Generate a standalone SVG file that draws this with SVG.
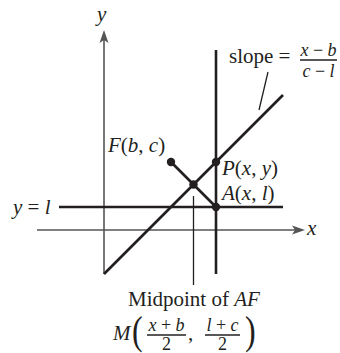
<svg xmlns="http://www.w3.org/2000/svg" width="340" height="353" viewBox="0 0 340 353">
<defs>
<style>
text{font-family:"Liberation Serif","Times New Roman",serif;fill:#231f20;}
.t{font-size:21px;}
.f{font-size:18px;}
.i{font-style:italic;}
.axis{stroke:#555;stroke-width:1.6;fill:none;}
.main{stroke:#231f20;stroke-width:2.6;fill:none;}
.thin{stroke:#231f20;stroke-width:1.3;fill:none;}
.dot{fill:#231f20;}
.arrow{fill:#555;}
</style>
</defs>
<rect width="340" height="353" fill="#fff"/>
<g id="axes">
<line class="axis" x1="37" y1="230" x2="296" y2="230"/>
<polygon class="arrow" points="305,230 292,225.5 295,230 292,234.5"/>
<line class="axis" x1="104" y1="274" x2="104" y2="39"/>
<polygon class="arrow" points="104,30 99.5,43 104,40 108.5,43"/>
<text class="t i" x="97" y="21">y</text>
<text class="t i" x="307" y="235">x</text>
</g>
<g id="connectors">
<line class="main" x1="59" y1="207" x2="283" y2="207"/>
<line class="main" x1="216" y1="50" x2="216" y2="274"/>
<line class="main" x1="104" y1="274" x2="283" y2="95"/>
<line class="main" x1="171" y1="162" x2="216" y2="207"/>
<line class="thin" x1="193.5" y1="196" x2="193.5" y2="285"/>
<line class="thin" x1="268" y1="72" x2="259" y2="110"/>
</g>
<g id="line-y-l">
<text class="t" x="13" y="214"><tspan class="i">y</tspan> = <tspan class="i">l</tspan></text>
</g>
<g id="point-F">
<circle class="dot" cx="171" cy="162" r="4.2"/>
<text class="t" x="108" y="152"><tspan class="i">F</tspan>(<tspan class="i">b</tspan>, <tspan class="i">c</tspan>)</text>
</g>
<g id="point-P">
<circle class="dot" cx="216" cy="162" r="4.2"/>
<text class="t" x="222" y="175"><tspan class="i">P</tspan>(<tspan class="i">x</tspan>, <tspan class="i">y</tspan>)</text>
</g>
<g id="point-A">
<circle class="dot" cx="216" cy="207" r="4.2"/>
<text class="t" x="222" y="199.5"><tspan class="i">A</tspan>(<tspan class="i">x</tspan>, <tspan class="i">l</tspan>)</text>
</g>
<g id="point-M">
<circle class="dot" cx="193.5" cy="184.5" r="4.2"/>
</g>
<g id="slope-label">
<text class="t" x="229" y="63">slope =</text>
<text class="f" x="318.5" y="56" text-anchor="middle"><tspan class="i">x</tspan> − <tspan class="i">b</tspan></text>
<line class="thin" x1="300" y1="60" x2="337" y2="60" stroke-width="1.1"/>
<text class="f" x="318.5" y="77" text-anchor="middle"><tspan class="i">c</tspan> − <tspan class="i">l</tspan></text>
</g>
<g id="midpoint-label">
<text class="t" x="128" y="306">Midpoint of <tspan class="i">AF</tspan></text>
<text class="t i" x="113" y="340">M</text>
<text x="132" y="344" font-size="40" transform="translate(132 0) scale(0.8 1) translate(-132 0)">(</text>
<text class="f" x="166.5" y="331" text-anchor="middle"><tspan class="i">x</tspan> + <tspan class="i">b</tspan></text>
<line class="thin" x1="147" y1="335" x2="186" y2="335" stroke-width="1.1"/>
<text class="f" x="166.5" y="350" text-anchor="middle">2</text>
<text class="t" x="188" y="340">,</text>
<text class="f" x="222.5" y="331" text-anchor="middle"><tspan class="i">l</tspan> + <tspan class="i">c</tspan></text>
<line class="thin" x1="205" y1="335" x2="240" y2="335" stroke-width="1.1"/>
<text class="f" x="222.5" y="350" text-anchor="middle">2</text>
<text x="245" y="344" font-size="40" transform="translate(245 0) scale(0.8 1) translate(-245 0)">)</text>
</g>
</svg>
